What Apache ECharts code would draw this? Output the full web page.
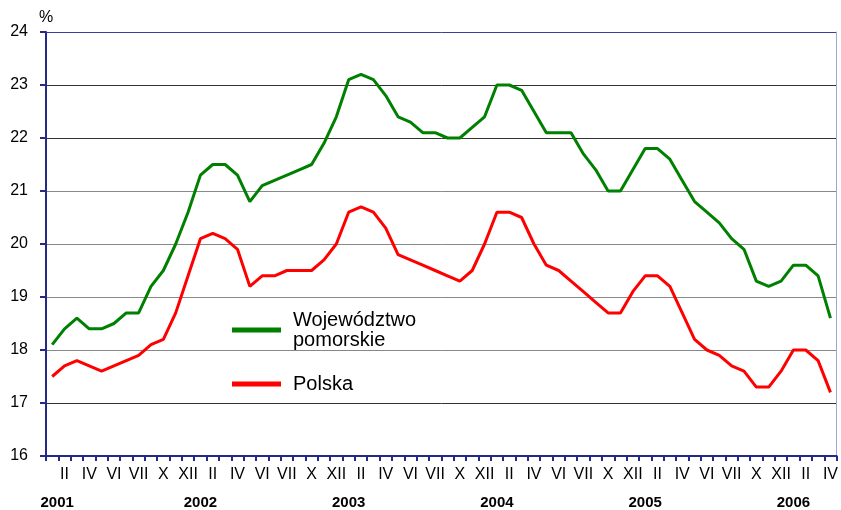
<!DOCTYPE html>
<html>
<head>
<meta charset="utf-8">
<script src="https://cdn.jsdelivr.net/npm/echarts@6/dist/echarts.min.js"></script>
<style>html,body{margin:0;padding:0;background:#fff;}#c{width:841px;height:510px;}</style>
</head>
<body>
<div id="c"></div>
<script>
const years = ['2001', '2002', '2003', '2004', '2005', '2006'];
const tickLabels = ['II', 'IV', 'VI', 'VII', 'X', 'XII'];
const seriesNames = ['Województwo\npomorskie', 'Polska'];
const pomorskie = [
  18.1, 18.4, 18.6, 18.4, 18.4, 18.5, 18.7, 18.7, 19.2, 19.5, 20.0, 20.6,
  21.3, 21.5, 21.5, 21.3, 20.8, 21.1, 21.2, 21.3, 21.4, 21.5, 21.9, 22.4,
  23.1, 23.2, 23.1, 22.8, 22.4, 22.3, 22.1, 22.1, 22.0, 22.0, 22.2, 22.4,
  23.0, 23.0, 22.9, 22.5, 22.1, 22.1, 22.1, 21.7, 21.4, 21.0, 21.0, 21.4,
  21.8, 21.8, 21.6, 21.2, 20.8, 20.6, 20.4, 20.1, 19.9, 19.3, 19.2, 19.3,
  19.6, 19.6, 19.4, 18.6
];
const polska = [
  17.5, 17.7, 17.8, 17.7, 17.6, 17.7, 17.8, 17.9, 18.1, 18.2, 18.7, 19.4,
  20.1, 20.2, 20.1, 19.9, 19.2, 19.4, 19.4, 19.5, 19.5, 19.5, 19.7, 20.0,
  20.6, 20.7, 20.6, 20.3, 19.8, 19.7, 19.6, 19.5, 19.4, 19.3, 19.5, 20.0,
  20.6, 20.6, 20.5, 20.0, 19.6, 19.5, 19.3, 19.1, 18.9, 18.7, 18.7, 19.1,
  19.4, 19.4, 19.2, 18.7, 18.2, 18.0, 17.9, 17.7, 17.6, 17.3, 17.3, 17.6,
  18.0, 18.0, 17.8, 17.2
];

// one category per month
const categories = pomorskie.map((v, i) => years[Math.floor(i / 12)] + '-' + (i % 12 + 1));

const FONT = 'Arial, "Liberation Sans", Helvetica, sans-serif';
const AXIS = '#232a8a';

const chart = echarts.init(document.getElementById('c'), null, {renderer: 'canvas'});
chart.setOption({
  animation: false,
  backgroundColor: '#fff',
  grid: {left: 46, right: 1, top: 32, bottom: 52, containLabel: false},
  legend: {
    orient: 'vertical',
    left: 232,
    top: 310,
    padding: 0,
    itemGap: 24,
    itemWidth: 49,
    itemHeight: 5,
    icon: 'rect',
    data: seriesNames,
    textStyle: {fontFamily: FONT, fontSize: 20, lineHeight: 20, color: '#000', padding: [0, 0, 0, 7]}
  },
  xAxis: [
    {
      type: 'category',
      data: categories,
      position: 'bottom',
      boundaryGap: true,
      axisLine: {lineStyle: {color: AXIS, width: 2}},
      axisTick: {show: true, interval: 0, length: 5, lineStyle: {color: AXIS, width: 2}},
      axisLabel: {
        interval: (i) => i % 2 === 1,
        formatter: (v, i) => tickLabels[Math.floor((i % 12) / 2)],
        fontFamily: FONT, fontSize: 16, color: '#000', margin: 11
      },
      splitLine: {show: false}
    },
    {
      type: 'category',
      data: categories,
      position: 'bottom',
      boundaryGap: true,
      axisLine: {show: false},
      axisTick: {show: false},
      axisLabel: {
        interval: (i) => i % 12 === 0,
        formatter: (v, i) => i === 0 ? '{f|' + years[0] + '}' : years[Math.floor(i / 12)],
        rich: {f: {padding: [0, 0, 0, 10], fontFamily: FONT, fontWeight: 'bold', fontSize: 15, color: '#000'}},
        fontFamily: FONT,
        fontWeight: 'bold', fontSize: 15, color: '#000', margin: 39
      },
      splitLine: {show: false}
    }
  ],
  yAxis: [
    {
      type: 'value',
      min: 16, max: 24, interval: 1,
      name: '%',
      nameLocation: 'end',
      nameGap: 6,
      nameTextStyle: {fontFamily: FONT, fontSize: 16, color: '#000', align: 'center'},
      axisLine: {show: true, lineStyle: {color: AXIS, width: 2}},
      axisTick: {show: true, length: 6, lineStyle: {color: AXIS, width: 2}},
      axisLabel: {fontFamily: FONT, fontSize: 16, color: '#000', margin: 18},
      splitLine: {
        show: true,
        lineStyle: {
          width: 1,
          color: ['#888', '#333', '#888', '#888', '#888', '#888', '#333', '#333', '#3a3f99']
        }
      }
    },
    {
      type: 'value',
      min: 16, max: 24, interval: 1,
      position: 'right',
      axisLine: {show: true, lineStyle: {color: '#a3a3d6', width: 1}},
      axisTick: {show: false},
      axisLabel: {show: false},
      splitLine: {show: false}
    }
  ],
  series: [
    {
      name: seriesNames[0],
      type: 'line',
      data: pomorskie,
      symbol: 'none',
      lineStyle: {color: '#008000', width: 3},
      itemStyle: {color: '#008000'}
    },
    {
      name: seriesNames[1],
      type: 'line',
      data: polska,
      symbol: 'none',
      lineStyle: {color: '#ff0000', width: 3},
      itemStyle: {color: '#ff0000'}
    }
  ]
});
</script>
</body>
</html>
